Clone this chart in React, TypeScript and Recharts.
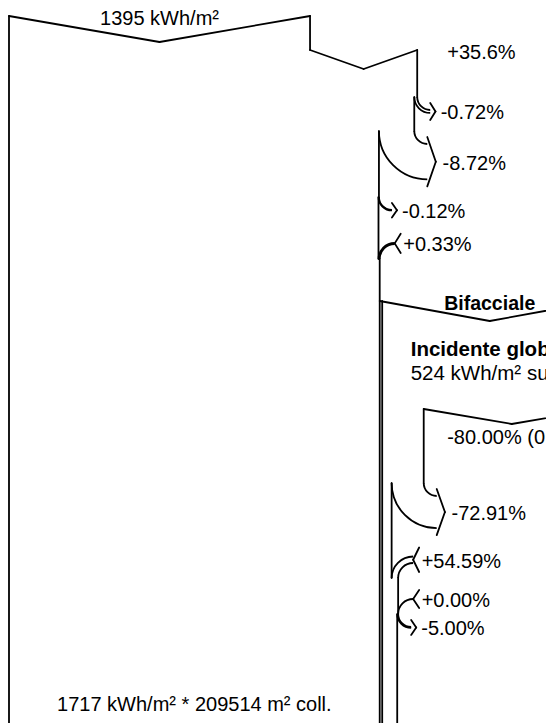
import { ComposedChart, XAxis, YAxis, ReferenceLine, ReferenceDot } from 'recharts';

// Front side: global horizontal irradiation and successive gains / losses
const globalHoriz = 1395; // kWh/m²
const frontLabels = ['+35.6%', '-0.72%', '-8.72%', '-0.12%', '+0.33%'];
const frontPct = [35.6, -0.72, -8.72, -0.12, 0.33];

// Rear side (bifacial) contributions
const groundIncident = 524; // kWh/m²
const rearLabels = ['-80.00% (0.20 albedo suolo)', '-72.91%', '+54.59%', '+0.00%', '-5.00%'];
const rearPct = [-80.0, -72.91, 54.59, 0.0, -5.0];

const effIrrad = 1717; // kWh/m²
const collArea = 209514; // m²
const groundTitles = ['Bifacciale', 'Incidente globale a terra', `${groundIncident} kWh/m² su terreno`];

// ---- layout (pixels) ----
const W = 546;
const H = 723;
const LEFT = 9;
const PX = 0.2158; // px per kWh/m² on the front flow
const REAR_K = 1.946; // rear flow is drawn at a larger scale
const REAR_GAP = 2.5;
const FONT = '"Liberation Sans", Arial, Helvetica, sans-serif';
const FONT_SIZE = 20;
const STROKE = 1.8;

const topY = 16;
const topDip = 26;
const gainDip = 19;
const frontStepY = [50, 97, 131, 197, 259];
const bifY = 301;
const bifDip = 20;
const rearStepY = [409, 483, 578, 614, 614];
const rearDip = 15;
const LOSS_R = 13;
const GAIN_R = 15;

type P = { x: number; y: number };
type Seg = { a: P; b: P; sweep?: 0 | 1 };
type Txt = {
  x: number;
  y: number;
  text: string;
  anchor?: 'start' | 'middle';
  bold?: boolean;
  size?: number;
};

const u = (px: number) => px / PX; // pixel length -> x units

function buildDiagram() {
  const segs: Seg[] = [];
  const texts: Txt[] = [];
  const line = (...pts: P[]) => {
    for (let i = 1; i < pts.length; i++) segs.push({ a: pts[i - 1], b: pts[i] });
  };
  const arc = (a: P, b: P, sweep: 0 | 1) => segs.push({ a, b, sweep });

  // loss leaves the flow on the right: a = new edge, b = old edge
  const loss = (a: number, b: number, y0: number, label: string) => {
    const w = (b - a) * PX;
    const ex = b + u(LOSS_R);
    arc({ x: b, y: y0 }, { x: ex, y: y0 + LOSS_R }, 0);
    arc({ x: a, y: y0 }, { x: ex, y: y0 + LOSS_R + w }, 0);
    const mid = y0 + LOSS_R + w / 2;
    const h = w / 2 + 7;
    line({ x: ex, y: mid - h }, { x: ex + u(5 + 0.1 * w), y: mid }, { x: ex, y: mid + h });
    texts.push({ x: ex + u(10 + 0.15 * w), y: mid + 8, text: label });
  };

  // gain joins the flow from the right: a = old edge, b = new edge
  const gain = (a: number, b: number, y0: number, label: string) => {
    const w = (b - a) * PX;
    const ex = b + u(GAIN_R);
    arc({ x: a, y: y0 }, { x: ex, y: y0 - GAIN_R - w }, 1);
    if (w > 0.3) arc({ x: b, y: y0 }, { x: ex, y: y0 - GAIN_R }, 1);
    const mid = y0 - GAIN_R - w / 2;
    const h = w / 2 + 9;
    line({ x: ex + u(6), y: mid - h }, { x: ex, y: mid }, { x: ex + u(6), y: mid + h });
    texts.push({ x: ex + u(8.5), y: mid + 8, text: label });
  };

  // ---- front side ----
  line({ x: 0, y: topY }, { x: 0, y: H });
  line({ x: 0, y: topY }, { x: globalHoriz / 2, y: topY + topDip }, { x: globalHoriz, y: topY });
  texts.push({ x: globalHoriz / 2, y: topY + 9, text: `${globalHoriz} kWh/m²`, anchor: 'middle' });

  let flow = globalHoriz;
  const g0 = frontStepY[0];
  line({ x: flow, y: topY }, { x: flow, y: g0 });
  const f1 = flow * (1 + frontPct[0] / 100);
  line({ x: flow, y: g0 }, { x: (flow + f1) / 2, y: g0 + gainDip }, { x: f1, y: g0 });
  texts.push({ x: f1 + u(30), y: g0 + 9, text: frontLabels[0] });
  flow = f1;

  let edgeTop = g0;
  for (let i = 1; i < frontPct.length; i++) {
    const y0 = frontStepY[i];
    const next = flow * (1 + frontPct[i] / 100);
    line({ x: flow, y: edgeTop }, { x: flow, y: y0 });
    if (frontPct[i] < 0) loss(next, flow, y0, frontLabels[i]);
    else gain(flow, next, y0, frontLabels[i]);
    flow = next;
    edgeTop = y0;
  }
  line({ x: flow, y: edgeTop }, { x: flow, y: H });
  texts.push({
    x: flow / 2,
    y: 711,
    text: `${effIrrad} kWh/m² * ${collArea} m² coll.`,
    anchor: 'middle',
  });

  // ---- rear side (bifacial) ----
  const origin = flow;
  const R = (v: number) => origin + v * REAR_K;
  const gnd = groundIncident;
  line({ x: origin, y: bifY }, { x: R(gnd / 2), y: bifY + bifDip }, { x: R(gnd), y: bifY });
  line({ x: origin + u(REAR_GAP), y: bifY }, { x: origin + u(REAR_GAP), y: H });
  texts.push({ x: R(gnd / 2), y: bifY + 9, text: groundTitles[0], anchor: 'middle', bold: true, size: 19.5 });
  texts.push({ x: origin + u(31), y: 356, text: groundTitles[1], bold: true, size: 20.5 });
  texts.push({ x: origin + u(31), y: 380, text: groundTitles[2], size: 20.5 });

  let rv = gnd * (1 + rearPct[0] / 100);
  const r0 = rearStepY[0];
  line({ x: R(rv), y: r0 }, { x: R((rv + gnd) / 2), y: r0 + rearDip }, { x: R(gnd), y: r0 });
  texts.push({ x: R(rv) + u(23.5), y: r0 + 35, text: rearLabels[0] });

  edgeTop = r0;
  for (let i = 1; i < rearPct.length; i++) {
    const y0 = rearStepY[i];
    const next = rv * (1 + rearPct[i] / 100);
    line({ x: R(rv), y: edgeTop }, { x: R(rv), y: y0 });
    if (rearPct[i] < 0) loss(R(next), R(rv), y0, rearLabels[i]);
    else gain(R(rv), R(next), y0, rearLabels[i]);
    rv = next;
    edgeTop = y0;
  }
  line({ x: R(rv), y: edgeTop }, { x: R(rv), y: H });

  return { segs, texts };
}

const { segs, texts } = buildDiagram();

const arcShape = (sweep: 0 | 1) => (p: any) => {
  const r = Math.abs(p.x2 - p.x1);
  return (
    <path
      d={`M${p.x1},${p.y1} A${r},${r} 0 0 ${sweep} ${p.x2},${p.y2}`}
      stroke="#000"
      strokeWidth={STROKE}
      fill="none"
    />
  );
};

export default function App() {
  return (
    <div style={{ position: 'absolute', left: 0, top: 0, width: W, height: H, background: '#fff' }}>
      <ComposedChart width={W} height={H} data={[]} margin={{ top: 0, right: 0, bottom: 0, left: 0 }}>
        <XAxis type="number" dataKey="x" hide domain={[-LEFT / PX, (W - LEFT) / PX]} allowDataOverflow />
        <YAxis type="number" dataKey="y" hide domain={[0, H]} reversed allowDataOverflow />
        {segs.map((s, i) => (
          <ReferenceLine
            key={`s${i}`}
            segment={[s.a, s.b]}
            ifOverflow="visible"
            stroke="#000"
            strokeWidth={STROKE}
            strokeLinecap="round"
            shape={s.sweep === undefined ? undefined : arcShape(s.sweep)}
          />
        ))}
        {texts.map((t, i) => (
          <ReferenceDot
            key={`t${i}`}
            x={t.x}
            y={t.y}
            r={0}
            ifOverflow="visible"
            shape={(p: any) => (
              <text
                x={p.cx}
                y={p.cy}
                textAnchor={t.anchor ?? 'start'}
                fontFamily={FONT}
                fontSize={t.size ?? FONT_SIZE}
                fontWeight={t.bold ? 'bold' : 'normal'}
                fill="#000"
              >
                {t.text}
              </text>
            )}
          />
        ))}
      </ComposedChart>
    </div>
  );
}
